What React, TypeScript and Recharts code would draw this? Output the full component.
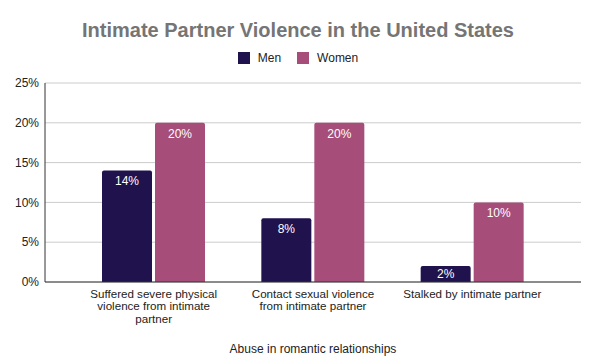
import React from 'react';
import { BarChart, Bar, XAxis, YAxis, CartesianGrid, Legend, LabelList } from 'recharts';

const categories = [
  'Suffered severe physical\nviolence from intimate\npartner',
  'Contact sexual violence\nfrom intimate partner',
  'Stalked by intimate partner',
];
const menValues = [14, 8, 2];
const womenValues = [20, 20, 10];
const yTicks = [0, 5, 10, 15, 20, 25];

const MEN_COLOR = '#20124d';
const WOMEN_COLOR = '#a64d79';
const FONT = '"Liberation Sans", Arial, sans-serif';

const data = categories.map((name, i) => ({
  name,
  men: menValues[i],
  women: womenValues[i],
}));

const CategoryTick = (props: any) => {
  const { x, y, payload } = props;
  const lines = String(payload.value).split('\n');
  return (
    <text x={x} y={y} textAnchor="middle" fill="#222" fontSize={11.6} fontFamily={FONT}>
      {lines.map((line, i) => (
        <tspan key={i} x={x} dy={i === 0 ? 16 : 12.3}>
          {line}
        </tspan>
      ))}
    </text>
  );
};

const BarValueLabel = (props: any) => {
  const { x, y, width, height, value } = props;
  const cy = y + Math.min(10.7, height / 2);
  return (
    <text
      x={x + width / 2}
      y={cy}
      textAnchor="middle"
      dominantBaseline="central"
      fill="#fff"
      fontSize={12}
      fontFamily={FONT}
    >
      {value}%
    </text>
  );
};

const LegendContent = () => (
  <div style={{ display: 'flex', justifyContent: 'center', alignItems: 'center', height: 20, fontSize: 12, color: '#222', fontFamily: FONT }}>
    <span style={{ width: 12, height: 12, background: MEN_COLOR, display: 'inline-block', marginRight: 8 }} />
    <span style={{ marginRight: 16 }}>Men</span>
    <span style={{ width: 12, height: 12, background: WOMEN_COLOR, display: 'inline-block', marginRight: 8 }} />
    <span>Women</span>
  </div>
);

const App: React.FC = () => {
  return (
    <div style={{ position: 'absolute', left: 0, top: 0, width: 616, height: 360, background: '#fff', fontFamily: FONT }}>
      <div
        style={{
          position: 'absolute',
          top: 20,
          left: 0,
          width: 596,
          textAlign: 'center',
          fontSize: 20,
          lineHeight: '20px',
          fontWeight: 'bold',
          color: '#757575',
        }}
      >
        Intimate Partner Violence in the United States
      </div>
      <BarChart
        width={616}
        height={360}
        data={data}
        margin={{ top: 63, right: 35, bottom: 0, left: 0 }}
        barSize={50}
        barGap={3}
      >
        <CartesianGrid vertical={false} stroke="#cccccc" />
        <Legend
          verticalAlign="top"
          content={<LegendContent />}
          wrapperStyle={{ top: 48, left: 0, width: 596, height: 20 }}
        />
        <XAxis
          dataKey="name"
          height={78}
          padding={{ left: 29, right: 29 }}
          tickLine={false}
          tickSize={0}
          tickMargin={0}
          axisLine={{ stroke: '#333' }}
          tick={<CategoryTick />}
          interval={0}
          label={{ value: 'Abuse in romantic relationships', position: 'insideBottom', offset: 7, fill: '#222', fontSize: 12, fontFamily: FONT }}
        />
        <YAxis
          width={45}
          domain={[0, 25]}
          ticks={yTicks}
          tickFormatter={(v) => `${v}%`}
          tickLine={false}
          tickSize={0}
          tickMargin={6}
          axisLine={{ stroke: '#333' }}
          tick={{ fill: '#222', fontSize: 12, fontFamily: FONT }}
        />
        <Bar dataKey="men" name="Men" fill={MEN_COLOR} radius={[2, 2, 0, 0]} isAnimationActive={false}>
          <LabelList dataKey="men" content={<BarValueLabel />} />
        </Bar>
        <Bar dataKey="women" name="Women" fill={WOMEN_COLOR} radius={[2, 2, 0, 0]} isAnimationActive={false}>
          <LabelList dataKey="women" content={<BarValueLabel />} />
        </Bar>
      </BarChart>
    </div>
  );
};

export default App;
